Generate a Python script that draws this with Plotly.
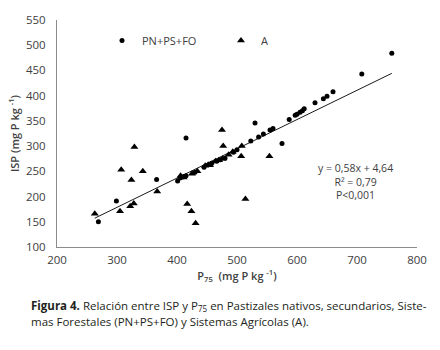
import plotly.graph_objects as go

# PN+PS+FO (circles)
pn_x = [269, 299, 366, 401, 405, 409, 412, 415, 415, 430, 445, 458, 466, 472, 480, 494, 500,
        523, 530, 536, 544, 555, 560, 575, 587, 597, 600, 605, 609, 612, 630, 644, 650, 660, 708, 758]
pn_y = [150, 191, 234, 231, 237, 239, 240, 241, 316, 248, 258, 266, 270, 273, 276, 288, 293,
        310, 346, 318, 324, 332, 335, 305, 353, 361, 363, 367, 370, 374, 386, 394, 399, 408, 443, 484]

# A (triangles)
a_x = [263, 305, 307, 322, 328, 324, 329, 343, 367, 406, 411, 417, 424, 425, 431, 434, 447, 452,
       455, 464, 470, 476, 475, 477, 486, 493, 507, 508, 514, 554]
a_y = [166, 171, 253, 181, 186, 233, 298, 250, 210, 241, 238, 185, 171, 245, 147, 250, 261, 263,
       262, 270, 272, 275, 332, 300, 283, 289, 280, 300, 195, 280]

# linear fit reported on chart
slope = 0.58
intercept = 4.64
all_x = pn_x + a_x
fit_x = [min(all_x), max(all_x)]
fit_y = [slope * v + intercept for v in fit_x]

FONT = "Open Sans"
TXT = "#404040"

fig = go.Figure()
fig.add_trace(go.Scatter(x=fit_x, y=fit_y, mode="lines", line=dict(color="#1a1a1a", width=1),
                         showlegend=False, hoverinfo="skip"))
fig.add_trace(go.Scatter(x=pn_x, y=pn_y, mode="markers", name="PN+PS+FO",
                         marker=dict(symbol="circle", size=5, color="black")))
fig.add_trace(go.Scatter(x=a_x, y=a_y, mode="markers", name="A",
                         marker=dict(symbol="triangle-up", size=7, color="black")))

fig.update_layout(
    width=440, height=350,
    margin=dict(l=57, r=23, t=14, b=103),
    paper_bgcolor="white", plot_bgcolor="white",
    font=dict(family=FONT, size=11, color=TXT),
    legend=dict(orientation="h", x=0.125, y=0.91, xanchor="left", yanchor="middle",
                bgcolor="rgba(0,0,0,0)", font=dict(size=11, color=TXT),
                entrywidth=74, entrywidthmode="pixels", itemsizing="trace"),
    xaxis=dict(range=[200, 800], dtick=100, tick0=200, showline=True, linecolor="#8c8c8c",
               linewidth=1, showgrid=False, zeroline=False, ticks="", ticklabelstandoff=2,
               tickfont=dict(size=11.5, color=TXT),
               title=dict(text="P<sub>75</sub>  (mg P kg <sup>-1</sup>)", standoff=6,
                          font=dict(size=11, color=TXT, weight=600))),
    yaxis=dict(range=[100, 550], dtick=50, tick0=100, showline=True, linecolor="#8c8c8c",
               linewidth=1, showgrid=False, zeroline=False, ticks="", ticklabelstandoff=8,
               tickfont=dict(size=11.5, color=TXT),
               title=dict(text="ISP (mg P kg <sup>-1</sup>)", standoff=4,
                          font=dict(size=11, color=TXT, weight=600))),
)

fig.add_annotation(text="y = 0,58x + 4,64<br>R² = 0,79<br>P<0,001", xref="paper", yref="paper",
                   x=0.828, y=0.288, showarrow=False, xanchor="center", yanchor="middle",
                   align="center", font=dict(size=10.5, color=TXT))

cap1 = "<b>Figura 4.</b> Relación entre ISP y P<sub>75</sub> en Pastizales nativos, secundarios, Siste-"
cap2 = "mas Forestales (PN+PS+FO) y Sistemas Agrícolas (A)."
fig.add_annotation(text=cap1, xref="paper", yref="paper", x=-0.078, y=-0.262, showarrow=False,
                   xanchor="left", yanchor="middle", align="left",
                   font=dict(size=11.5, color="#231f20"))
fig.add_annotation(text=cap2, xref="paper", yref="paper", x=-0.078, y=-0.326, showarrow=False,
                   xanchor="left", yanchor="middle", align="left",
                   font=dict(size=11.5, color="#231f20"))

fig.write_html("out.html", config={"displayModeBar": False},
               post_script="document.body.style.margin='0';")
